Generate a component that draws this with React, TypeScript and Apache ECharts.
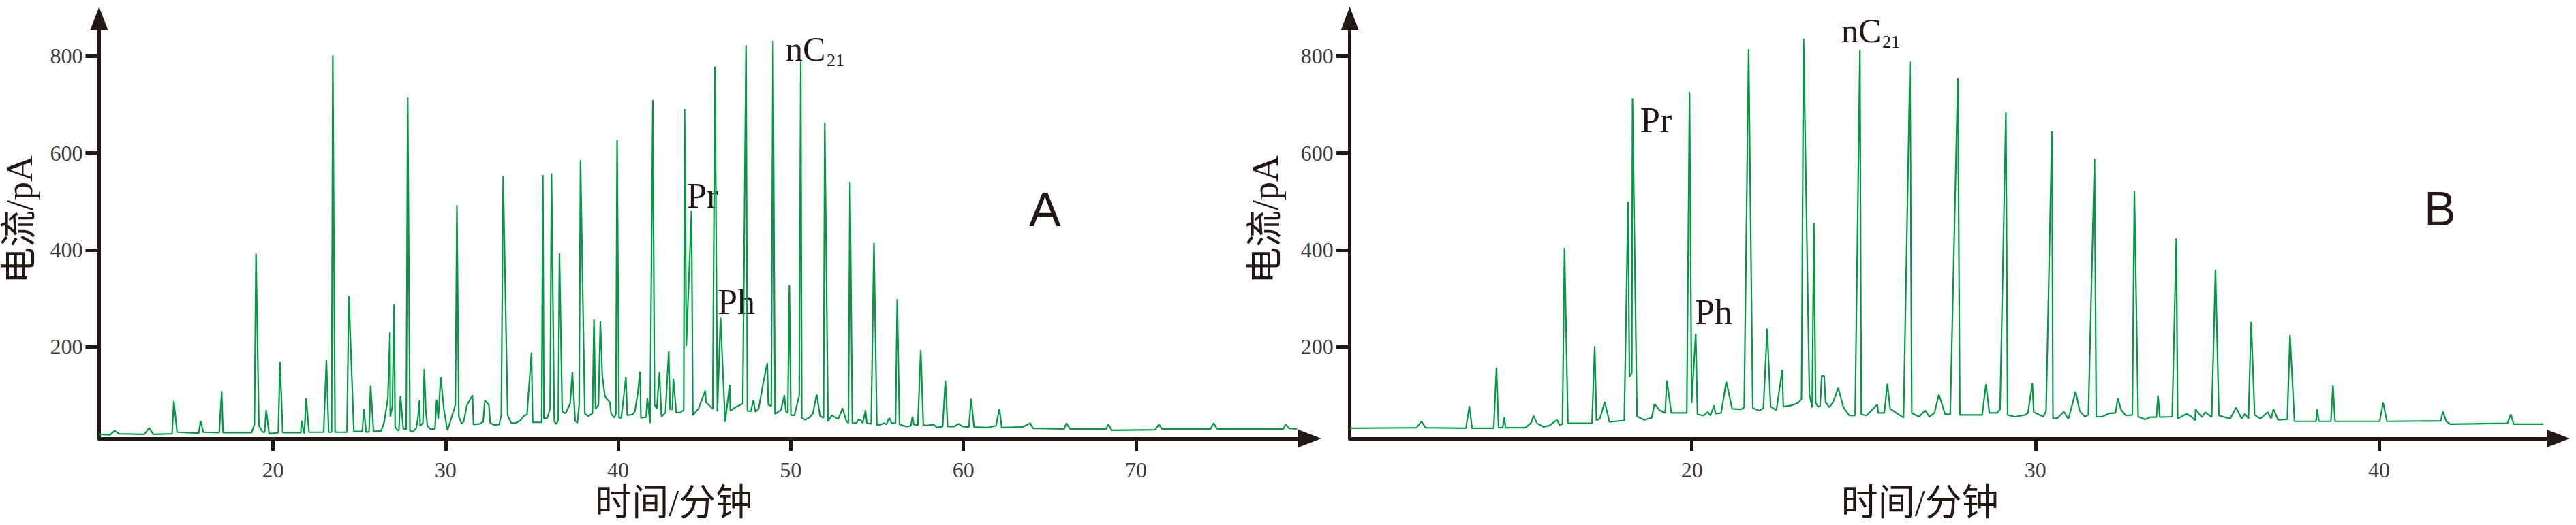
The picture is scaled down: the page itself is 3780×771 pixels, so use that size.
import { useEffect, useRef } from "react";
import * as echarts from "echarts";

// ---- Panel A (retention time in minutes, detector current in pA) ----
const timeA = [
  9.95, 10.57, 10.83, 11.1, 12.55, 12.83, 13.07, 14.16, 14.26, 14.45, 15.7, 15.81, 15.97, 16.89, 17.03, 17.11,
  18.77, 18.93, 19.02, 19.19, 19.41, 19.52, 19.61, 19.78, 20.31, 20.41, 20.57, 21.62, 21.65, 21.82, 21.93, 22.09,
  22.94, 23.1, 23.23, 23.4, 23.47, 23.6, 24.29, 24.4, 24.69, 25.18, 25.27, 25.4, 25.57, 25.66, 25.83, 26.27,
  26.45, 26.66, 26.78, 26.8, 26.92, 27.02, 27.08, 27.22, 27.3, 27.39, 27.55, 27.72, 27.81, 27.94, 28.11, 28.3,
  28.4, 28.49, 28.53, 28.69, 28.77, 28.86, 28.95, 29.12, 29.39, 29.48, 29.58, 29.72, 29.91, 30.11, 30.27, 30.57,
  30.66, 30.77, 30.93, 31.06, 31.23, 31.56, 31.62, 31.95, 32.18, 32.28, 32.51, 32.59, 32.81, 33.11, 33.23, 33.34,
  33.6, 33.8, 34.06, 34.32, 34.59, 34.72, 34.98, 35.05, 35.57, 35.64, 35.7, 35.9, 36.06, 36.14, 36.3, 36.43,
  36.53, 36.6, 36.76, 36.95, 37.22, 37.35, 37.51, 37.64, 37.74, 37.82, 38.07, 38.27, 38.51, 38.6, 38.69, 38.86,
  38.97, 39.08, 39.23, 39.32, 39.52, 39.59, 39.78, 39.87, 39.94, 40.05, 40.18, 40.45, 40.53, 40.84, 40.97, 41.14,
  41.27, 41.32, 41.62, 41.69, 41.85, 42.01, 42.11, 42.24, 42.39, 42.51, 42.74, 42.93, 43.01, 43.14, 43.2, 43.37,
  43.59, 43.8, 43.85, 43.95, 44.25, 44.33, 44.65, 45.05, 45.09, 45.48, 45.61, 45.75, 45.93, 46.2, 46.46, 46.5,
  46.76, 47.22, 47.41, 47.49, 47.68, 47.84, 47.95, 48.14, 48.41, 48.64, 48.7, 48.87, 48.97, 49.09, 49.43, 49.63,
  49.72, 49.83, 49.92, 50.01, 50.21, 50.49, 50.58, 50.64, 50.84, 51.1, 51.28, 51.5, 51.7, 51.9, 51.97, 52.16,
  52.38, 52.75, 53.0, 53.21, 53.34, 53.43, 53.57, 53.8, 53.91, 54.09, 54.17, 54.33, 54.41, 54.66, 54.82, 54.99,
  55.25, 55.41, 55.54, 55.71, 55.84, 56.07, 56.17, 56.3, 56.7, 56.96, 57.05, 57.13, 57.36, 57.53, 57.68, 57.88,
  58.28, 58.47, 58.8, 58.96, 59.09, 59.46, 59.72, 59.96, 60.32, 60.45, 60.62, 61.43, 61.89, 62.09, 62.22, 63.41,
  63.87, 64.04, 65.84, 65.97, 66.17, 68.27, 68.4, 68.6, 71.1, 71.33, 71.5, 74.32, 74.5, 74.69, 78.54, 78.67,
  78.87, 79.33,
];
const currentA = [
  18.6, 17.5, 26, 19.7, 18.6, 32, 18.6, 19.7, 87.7, 23, 21, 46, 23, 22, 107.6, 22,
  22, 39, 392, 36.4, 23, 23, 68.8, 20, 22, 168.6, 22, 22, 47, 20, 93, 23,
  23, 173, 23, 23, 801.7, 23, 23, 304.6, 24.6, 24.6, 71.5, 23, 24, 119, 24.6, 25.6,
  44.5, 93, 229, 55, 77, 287.4, 34, 27, 27, 98, 31, 28, 714.6, 25.6, 24, 31,
  52.6, 88.8, 36, 42, 153.5, 66, 36, 29.4, 30, 90, 50, 137, 69, 26.7, 44.5, 79.6,
  492, 55, 40.7, 45.6, 78, 99.6, 39, 40, 44.5, 88.8, 79.6, 42, 38, 39, 58, 552,
  58, 42, 42, 47, 58, 59.6, 187.5, 43.4, 43.4, 554.5, 50.9, 52.6, 72.6, 558, 45.6, 40,
  48.8, 392.6, 66, 61.8, 82, 147, 47, 42, 79.6, 585, 61.8, 56.4, 61.8, 256, 71.5, 79.6,
  252, 140.6, 98.5, 93, 85, 61.8, 52.6, 60.7, 626, 52.6, 52.6, 137, 58, 59.6, 66, 104,
  148, 52.6, 54, 94, 42, 709, 79.6, 71.5, 147, 55, 63.5, 190, 70.4, 70.4, 133.6, 63.5,
  63.5, 68.8, 691, 201, 480, 58, 71.5, 109, 85, 71.5, 778.5, 66, 260, 44.5, 121, 67,
  74, 82, 822.7, 67, 66, 88.8, 65, 71.5, 125.5, 166, 79.6, 77, 832, 60.7, 68.8, 99.6,
  66, 63.5, 327, 58, 58, 98.5, 789, 52.6, 48.8, 54, 61.8, 101, 56.4, 52.6, 662.5, 45.6,
  58, 49.9, 72.6, 47, 41.8, 539.4, 41.8, 41.8, 48.8, 47, 41.8, 68.8, 41.8, 40.2, 414, 38,
  39, 42, 39, 52.6, 41.8, 41.8, 298, 39, 34.8, 36, 55, 39, 37, 193, 38, 37,
  39, 32.6, 34.8, 130, 34.8, 34.8, 40.2, 34.8, 33.7, 92, 33.7, 32.6, 36.4, 71.5, 32.6, 33.7,
  41.8, 31, 30, 41.8, 30, 30, 39, 27, 28, 39, 30, 30, 41.8, 30, 30, 39,
  31, 30,
];

// ---- Panel B ----
const timeB = [
  10.05, 11.98, 12.13, 12.24, 13.42, 13.52, 13.6, 14.23, 14.31, 14.37, 14.49, 14.54, 14.57, 15.15, 15.32, 15.39,
  15.49, 15.68, 15.85, 16.07, 16.15, 16.23, 16.29, 16.39, 17.09, 17.17, 17.22, 17.32, 17.46, 17.6, 18.03, 18.14,
  18.18, 18.25, 18.27, 18.4, 18.61, 18.83, 18.91, 19.06, 19.22, 19.27, 19.4, 19.85, 19.93, 19.99, 20.11, 20.16,
  20.34, 20.46, 20.54, 20.64, 20.69, 20.85, 21.0, 21.17, 21.43, 21.52, 21.65, 21.77, 21.96, 22.08, 22.19, 22.29,
  22.46, 22.63, 22.66, 22.89, 23.09, 23.19, 23.25, 23.42, 23.5, 23.55, 23.6, 23.67, 23.73, 23.78, 23.85, 23.89,
  24.0, 24.11, 24.26, 24.41, 24.58, 24.75, 24.89, 24.93, 25.08, 25.4, 25.42, 25.6, 25.69, 25.77, 26.16, 26.35,
  26.4, 26.61, 26.79, 26.91, 27.06, 27.19, 27.37, 27.52, 27.74, 27.8, 28.45, 28.56, 28.66, 28.88, 28.97, 29.14,
  29.19, 29.4, 29.7, 29.78, 29.91, 29.95, 30.23, 30.31, 30.48, 30.51, 30.64, 30.83, 30.96, 31.17, 31.29, 31.44,
  31.54, 31.72, 31.77, 31.94, 32.15, 32.33, 32.4, 32.49, 32.63, 32.82, 32.88, 32.99, 33.19, 33.34, 33.52, 33.57,
  33.62, 33.98, 34.1, 34.14, 34.4, 34.54, 34.65, 34.66, 34.85, 34.94, 35.13, 35.24, 35.34, 35.67, 35.84, 36.0,
  36.1, 36.2, 36.28, 36.38, 36.55, 36.76, 36.86, 36.93, 37.06, 37.33, 37.41, 37.54, 38.17, 38.2, 38.25, 38.6,
  38.66, 38.72, 40.02, 40.12, 40.23, 41.8, 41.86, 41.96, 42.07, 43.74, 43.84, 43.92, 44.78,
];
const currentB = [
  31.2, 32.3, 45.5, 32.3, 31.2, 77, 31.2, 31.2, 156.5, 32.3, 32.3, 54, 32.3, 32.3, 42.6, 57,
  41.5, 34, 37, 48.4, 38, 39.8, 403.7, 41.5, 41.5, 200.8, 47.3, 51, 85.6, 44.3, 47.3, 500,
  137.6, 146, 712.6, 55.7, 48.4, 53, 81.6, 68.5, 62.8, 130, 62.8, 62.8, 725.7, 82.9, 226.6, 60,
  57.5, 64.8, 57.5, 78.3, 61, 62.8, 127.6, 71.5, 70.4, 74.4, 814.3, 73.2, 67.4, 73.2, 237, 76,
  68.5, 152, 76, 78.3, 84, 91.6, 836.2, 101, 74.4, 455.4, 84, 76, 77, 140, 139, 85.6,
  74.4, 85.6, 114.5, 74.4, 57.5, 57.5, 813, 60, 57.5, 80.5, 62.8, 62.8, 123, 71.5, 53, 789,
  62.8, 55, 68.5, 55, 62.8, 101, 60, 60, 754.5, 58.7, 58.7, 122, 62.8, 62.8, 70, 684,
  58.7, 55, 58.7, 62.8, 124.4, 64.5, 55, 66.8, 645.3, 51, 52.3, 65.6, 50, 107, 66.8, 55,
  58.7, 587.8, 55, 55, 62, 62.8, 93, 69.7, 57.5, 58.7, 522, 55, 49.5, 54, 54, 99,
  54, 55, 423.4, 51, 61, 55, 47, 70, 54, 64.5, 54, 358.8, 57.5, 51, 74, 51,
  61, 51, 250.8, 58.7, 51, 64.5, 51, 71, 48.4, 49.5, 223.7, 45.5, 45.5, 71, 45.5, 45.5,
  120, 45.5, 45.5, 84, 45.5, 46.5, 65.6, 45.5, 39.8, 41.5, 60, 39.8, 39.8,
];

const xTicksA = [20, 30, 40, 50, 60, 70];
const xTicksB = [20, 30, 40];
const yTicks = [200, 400, 600, 800];

const INK = "#231815";
const GREEN = "#009944";
const SERIF_CJK = "'Liberation Serif', 'Noto Sans CJK SC', serif";

function xAxisFor(gridIndex: number, min: number, max: number, ticks: number[], padRight: number) {
  return {
    type: "value",
    gridIndex,
    min,
    max,
    name: "时间/分钟",
    nameLocation: "middle",
    nameGap: 68,
    nameTextStyle: { fontFamily: SERIF_CJK, fontSize: 54, color: INK, padding: [0, padRight, 0, 0] },
    axisLine: {
      show: true,
      onZero: false,
      symbol: ["none", "triangle"],
      symbolSize: [26, 34],
      lineStyle: { color: INK, width: 5 },
    },
    axisTick: { show: true, inside: false, length: 18, customValues: ticks, lineStyle: { color: INK, width: 5 } },
    axisLabel: { customValues: ticks, margin: 30, fontFamily: "Liberation Serif", fontSize: 32, color: "#3a3a3a" },
    splitLine: { show: false },
  };
}

function yAxisFor(gridIndex: number, nameGap: number) {
  return {
    type: "value",
    gridIndex,
    min: 10,
    max: 878,
    name: "电流/pA",
    nameLocation: "middle",
    nameRotate: 90,
    nameGap,
    nameTextStyle: { fontFamily: SERIF_CJK, fontSize: 54, color: INK, padding: [0, 0, 0, 26] },
    axisLine: {
      show: true,
      onZero: false,
      symbol: ["none", "triangle"],
      symbolSize: [26, 34],
      lineStyle: { color: INK, width: 5 },
    },
    axisTick: { show: true, inside: false, length: 20, customValues: yTicks, lineStyle: { color: INK, width: 5 } },
    axisLabel: { customValues: yTicks, margin: 24, fontFamily: "Liberation Serif", fontSize: 32, color: "#3a3a3a" },
    splitLine: { show: false },
  };
}

function label(text: string, x: number, y: number, size: number, family = "Liberation Serif") {
  return {
    type: "text",
    x,
    y,
    silent: true,
    style: { text, fill: INK, font: `${size}px ${family}`, align: "left", verticalAlign: "middle" },
  };
}

export default function App() {
  const ref = useRef<HTMLDivElement>(null);

  useEffect(() => {
    document.body.style.margin = "0";
    const el = ref.current;
    if (!el) return;
    const chart = echarts.init(el, null, { renderer: "svg" });

    const dataA = timeA.map((t, i) => [t, currentA[i]]);
    const dataB = timeB.map((t, i) => [t, currentB[i]]);

    chart.setOption({
      animation: false,
      backgroundColor: "#ffffff",
      grid: [
        { left: 145.4, top: 27, width: 1776.6, height: 626 },
        { left: 1980.7, top: 27, width: 1773.3, height: 626 },
      ],
      xAxis: [xAxisFor(0, 9.93, 80.07, xTicksA, 90), xAxisFor(1, 10.04, 45.22, xTicksB, 100)],
      yAxis: [yAxisFor(0, 89), yAxisFor(1, 97)],
      series: [
        {
          type: "line",
          name: "A",
          xAxisIndex: 0,
          yAxisIndex: 0,
          data: dataA,
          symbol: "none",
          lineStyle: { color: GREEN, width: 2.2 },
          silent: true,
        },
        {
          type: "line",
          name: "B",
          xAxisIndex: 1,
          yAxisIndex: 1,
          data: dataB,
          symbol: "none",
          lineStyle: { color: GREEN, width: 2.2 },
          silent: true,
        },
      ],
      graphic: [
        label("Pr", 1008, 287.5, 52),
        label("Ph", 1053, 443.5, 52),
        label("nC", 1153, 72, 50),
        label("21", 1213, 88, 26),
        label("A", 1510, 307.7, 70, "Liberation Sans"),
        label("Pr", 2407, 176.5, 52),
        label("Ph", 2487, 458.5, 52),
        label("nC", 2702, 45, 50),
        label("21", 2762, 61.8, 26),
        label("B", 3557, 306.7, 70, "Liberation Sans"),
      ],
    });

    return () => chart.dispose();
  }, []);

  return <div ref={ref} style={{ width: 3780, height: 771 }} />;
}
